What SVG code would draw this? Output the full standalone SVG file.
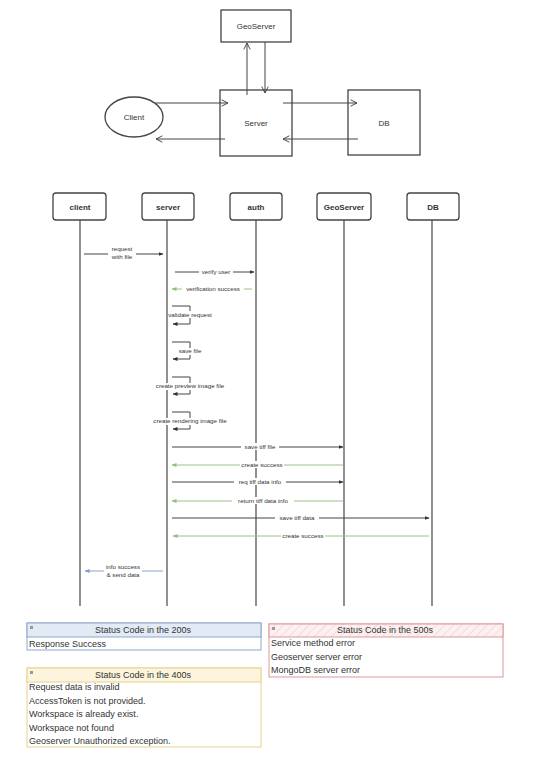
<svg xmlns="http://www.w3.org/2000/svg" width="533" height="757" viewBox="0 0 533 757">
<style>
  text { font-family: "Liberation Sans", "DejaVu Sans", sans-serif; fill: #333; }
  .box { fill: #fff; stroke: #444; stroke-width: 1.3; }
  .lbl { font-size: 8px; text-anchor: middle; }
  .plbl { font-size: 8px; text-anchor: middle; font-weight: bold; fill: #333; }
  .msg { font-size: 6.2px; text-anchor: middle; }
  .life { stroke: #555; stroke-width: 1.3; fill: none; }
  .arr { stroke: #444; stroke-width: 1; fill: none; }
  .dark { stroke: #444; stroke-width: 1; fill: none; }
  .green { stroke: #9ac48a; stroke-width: 1; fill: none; }
  .blue { stroke: #8aa6cc; stroke-width: 1; fill: none; }
  .bg { fill: #fff; }
  .leg { font-size: 9px; }
  .legh { font-size: 9px; text-anchor: middle; }
</style>
<defs>
  <marker id="open" viewBox="0 0 10 10" refX="9" refY="5" markerWidth="8" markerHeight="8" orient="auto" markerUnits="userSpaceOnUse">
    <path d="M1,1 L9,5 L1,9" fill="none" stroke="#444" stroke-width="1.2"/>
  </marker>
  <marker id="fd" viewBox="0 0 10 10" refX="9" refY="5" markerWidth="5" markerHeight="5" orient="auto" markerUnits="userSpaceOnUse">
    <path d="M0,1 L10,5 L0,9 z" fill="#333"/>
  </marker>
  <marker id="fg" viewBox="0 0 10 10" refX="9" refY="5" markerWidth="5" markerHeight="5" orient="auto" markerUnits="userSpaceOnUse">
    <path d="M0,1 L10,5 L0,9 z" fill="#8fbf7f"/>
  </marker>
  <marker id="fb" viewBox="0 0 10 10" refX="9" refY="5" markerWidth="5" markerHeight="5" orient="auto" markerUnits="userSpaceOnUse">
    <path d="M0,1 L10,5 L0,9 z" fill="#7d9cc8"/>
  </marker>
  <pattern id="hatch" width="6" height="6" patternUnits="userSpaceOnUse" patternTransform="rotate(45)">
    <rect width="6" height="6" fill="#fcf0f0"/>
    <line x1="0" y1="0" x2="0" y2="6" stroke="#f2cccc" stroke-width="1.2"/>
  </pattern>
</defs>
<rect width="533" height="757" fill="#fff"/>

<!-- Top architecture diagram -->
<g id="geoserver-top">
  <rect class="box" x="221" y="10" width="70" height="32"/>
  <text class="lbl" x="256" y="29">GeoServer</text>
</g>
<g id="server-top">
  <rect class="box" x="220" y="90" width="72" height="66"/>
  <text class="lbl" x="256" y="126">Server</text>
</g>
<g id="db-top">
  <rect class="box" x="348" y="90" width="72" height="65"/>
  <text class="lbl" x="384" y="126">DB</text>
</g>
<g id="client-top">
  <ellipse class="box" cx="134" cy="117" rx="29" ry="20"/>
  <text class="lbl" x="134" y="120">Client</text>
</g>
<g id="top-connectors">
  <line class="arr" x1="247" y1="95" x2="247" y2="43" marker-end="url(#open)"/>
  <line class="arr" x1="265" y1="42" x2="265" y2="93" marker-end="url(#open)"/>
  <line class="arr" x1="155" y1="103" x2="228" y2="103" marker-end="url(#open)"/>
  <line class="arr" x1="225" y1="139" x2="156" y2="139" marker-end="url(#open)"/>
  <line class="arr" x1="283" y1="103" x2="357" y2="103" marker-end="url(#open)"/>
  <line class="arr" x1="358" y1="139" x2="283" y2="139" marker-end="url(#open)"/>
</g>

<!-- Sequence participants -->
<g id="lifelines">
  <line class="life" x1="80" y1="220" x2="80" y2="606"/>
  <line class="life" x1="167" y1="220" x2="167" y2="606"/>
  <line class="life" x1="256" y1="220" x2="256" y2="606"/>
  <line class="life" x1="344" y1="220" x2="344" y2="606"/>
  <line class="life" x1="432" y1="220" x2="432" y2="606" stroke="#888" stroke-width="2"/>
</g>
<g id="p-client">
  <rect class="box" x="53" y="193" width="53" height="27" rx="3"/>
  <text class="plbl" x="80" y="210">client</text>
</g>
<g id="p-server">
  <rect class="box" x="142" y="193" width="52" height="27" rx="3"/>
  <text class="plbl" x="168" y="210">server</text>
</g>
<g id="p-auth">
  <rect class="box" x="230" y="193" width="52" height="27" rx="3"/>
  <text class="plbl" x="256" y="210">auth</text>
</g>
<g id="p-geoserver">
  <rect class="box" x="317" y="193" width="54" height="27" rx="3"/>
  <text class="plbl" x="344" y="210">GeoServer</text>
</g>
<g id="p-db">
  <rect class="box" x="407" y="193" width="52" height="27" rx="3"/>
  <text class="plbl" x="433" y="210">DB</text>
</g>

<!-- Messages -->
<g id="messages">
  <line class="dark" x1="84" y1="254" x2="163" y2="254" marker-end="url(#fd)"/>
  <rect class="bg" x="108" y="244" width="28" height="16"/>
  <text class="msg" x="122" y="251">request</text>
  <text class="msg" x="122" y="259">with file</text>

  <line class="dark" x1="175" y1="272" x2="254" y2="272" marker-end="url(#fd)"/>
  <rect class="bg" x="199" y="268" width="34" height="7"/>
  <text class="msg" x="216" y="274">verify user</text>

  <line class="green" x1="252" y1="289" x2="172" y2="289" marker-end="url(#fg)"/>
  <rect class="bg" x="182" y="285" width="62" height="7"/>
  <text class="msg" x="213" y="291">verification  success</text>

  <path class="dark" d="M172,306 H190 V324 H173" marker-end="url(#fd)"/>
  <rect class="bg" x="168" y="311" width="44" height="7"/>
  <text class="msg" x="190" y="317">validate request</text>

  <path class="dark" d="M172,342 H190 V359 H173" marker-end="url(#fd)"/>
  <rect class="bg" x="177" y="348" width="28" height="7"/>
  <text class="msg" x="190" y="353">save file</text>

  <path class="dark" d="M172,377 H190 V394 H173" marker-end="url(#fd)"/>
  <rect class="bg" x="153" y="383" width="74" height="7"/>
  <text class="msg" x="190" y="388">create preview image file</text>

  <path class="dark" d="M172,412 H190 V429 H173" marker-end="url(#fd)"/>
  <rect class="bg" x="151" y="418" width="78" height="7"/>
  <text class="msg" x="190" y="423">create rendering image file</text>

  <line class="dark" x1="172" y1="447" x2="343" y2="447" marker-end="url(#fd)"/>
  <rect class="bg" x="241" y="443" width="38" height="7"/>
  <text class="msg" x="260" y="449">save tiff file</text>

  <line class="green" x1="343" y1="465" x2="172" y2="465" marker-end="url(#fg)"/>
  <rect class="bg" x="240" y="461" width="44" height="7"/>
  <text class="msg" x="262" y="467">create success</text>

  <line class="dark" x1="172" y1="482" x2="343" y2="482" marker-end="url(#fd)"/>
  <rect class="bg" x="234" y="478" width="52" height="7"/>
  <text class="msg" x="260" y="484">req tiff data info</text>

  <line class="green" x1="343" y1="501" x2="172" y2="501" marker-end="url(#fg)"/>
  <rect class="bg" x="232" y="497" width="62" height="7"/>
  <text class="msg" x="263" y="503">return tiff data info</text>

  <line class="dark" x1="172" y1="518" x2="429" y2="518" marker-end="url(#fd)"/>
  <rect class="bg" x="275" y="514" width="44" height="7"/>
  <text class="msg" x="297" y="520">save tiff data</text>

  <line class="green" x1="429" y1="536" x2="173" y2="536" marker-end="url(#fg)"/>
  <rect class="bg" x="281" y="532" width="44" height="7"/>
  <text class="msg" x="303" y="538">create success</text>

  <line class="blue" x1="163" y1="571" x2="85" y2="571" marker-end="url(#fb)"/>
  <rect class="bg" x="104" y="563" width="38" height="15"/>
  <text class="msg" x="123" y="569">info success</text>
  <text class="msg" x="123" y="577">&amp; send data</text>
</g>

<!-- Legends -->
<g id="legend-200">
  <rect x="27" y="623" width="234" height="27" fill="#fff" stroke="#8ea6cc" stroke-width="1"/>
  <rect x="27" y="623" width="234" height="14" fill="#e2eaf6" stroke="#8ea6cc" stroke-width="1"/>
  <rect x="30" y="626" width="3" height="3" fill="#999"/>
  <text class="legh" x="143" y="633">Status Code in the 200s</text>
  <text class="leg" x="29" y="647">Response Success</text>
</g>
<g id="legend-400">
  <rect x="27" y="668" width="234" height="79" fill="#fff" stroke="#e6d28e" stroke-width="1"/>
  <rect x="27" y="668" width="234" height="14" fill="#fcf4dc" stroke="#e6d28e" stroke-width="1"/>
  <rect x="30" y="671" width="3" height="3" fill="#999"/>
  <text class="legh" x="143" y="678">Status Code in the 400s</text>
  <text class="leg" x="29" y="690">Request data is invalid</text>
  <text class="leg" x="29" y="704">AccessToken is not provided.</text>
  <text class="leg" x="29" y="717">Workspace is already exist.</text>
  <text class="leg" x="29" y="731">Workspace not found</text>
  <text class="leg" x="29" y="744">Geoserver Unauthorized exception.</text>
</g>
<g id="legend-500">
  <rect x="269" y="624" width="234" height="53" fill="#fff" stroke="#d99a9a" stroke-width="1"/>
  <rect x="269" y="624" width="234" height="13" fill="url(#hatch)" stroke="#d99a9a" stroke-width="1"/>
  <rect x="272" y="627" width="3" height="3" fill="#999"/>
  <text class="legh" x="385" y="633">Status Code in the 500s</text>
  <text class="leg" x="271" y="646">Service method error</text>
  <text class="leg" x="271" y="660">Geoserver server error</text>
  <text class="leg" x="271" y="673">MongoDB server error</text>
</g>
</svg>
